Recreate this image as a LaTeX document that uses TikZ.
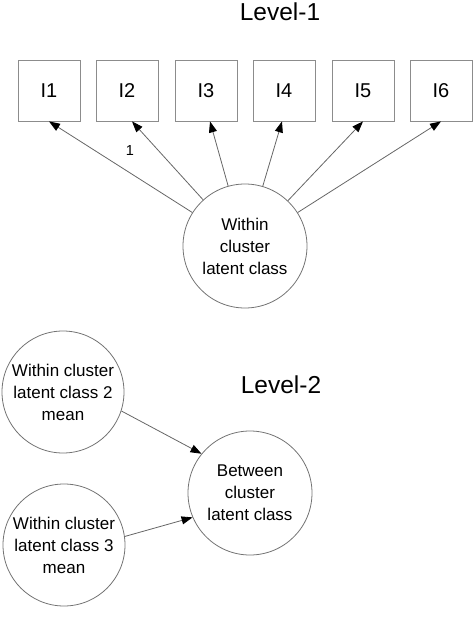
\documentclass[tikz,border=0pt]{standalone}
\usepackage{fontspec}
\setmainfont{Liberation Sans}
\usetikzlibrary{arrows.meta}
\tikzset{
  item/.style={draw=black!45, line width=0.8pt, minimum width=62pt, minimum height=61pt, inner sep=0pt, font=\fontsize{20}{24}\selectfont},
  latent/.style={draw=black!55, line width=0.8pt, circle, inner sep=0pt, align=center, font=\fontsize{17}{22}\selectfont},
  arr/.style={draw=black!60, line width=0.8pt, -{Triangle[length=11pt,width=8pt,color=black]}},
  lvl/.style={font=\fontsize{24.5}{28}\selectfont, inner sep=0pt}
}
\begin{document}
\begin{tikzpicture}[x=1pt,y=-1pt]
\useasboundingbox (0,0) rectangle (474,632);
\node[lvl] (l1) at (280,12) {Level-1};
\node[item] (i1) at (49,90.5) {I1};
\node[item] (i2) at (127,90.5) {I2};
\node[item] (i3) at (206,90.5) {I3};
\node[item] (i4) at (284,90.5) {I4};
\node[item] (i5) at (363,90.5) {I5};
\node[item] (i6) at (441,90.5) {I6};
\node[latent, minimum size=124pt] (w) at (245,246) {Within\\cluster\\latent class};
\draw[arr] (w) -- (i1.south);
\draw[arr] (w) -- ([xshift=5pt]i2.south);
\draw[arr] (w) -- ([xshift=4pt]i3.south);
\draw[arr] (w) -- ([xshift=-2pt]i4.south);
\draw[arr] (w) -- (i5.south);
\draw[arr] (w) -- (i6.south);
\node[font=\fontsize{14.5}{17}\selectfont, inner sep=0pt] (one) at (130,151) {1};
\node[lvl] (l2) at (281,385) {Level-2};
\node[latent, minimum size=122pt] (a) at (63,392) {Within cluster\\latent class 2\\mean};
\node[latent, minimum size=122pt] (b) at (64,545) {Within cluster\\latent class 3\\mean};
\node[latent, minimum size=124pt] (btw) at (250,493) {Between\\cluster\\latent class};
\draw[arr] (a.-18.7) -- (btw.141);
\draw[arr] (b.8.3) -- (btw.203.7);
\end{tikzpicture}
\end{document}
